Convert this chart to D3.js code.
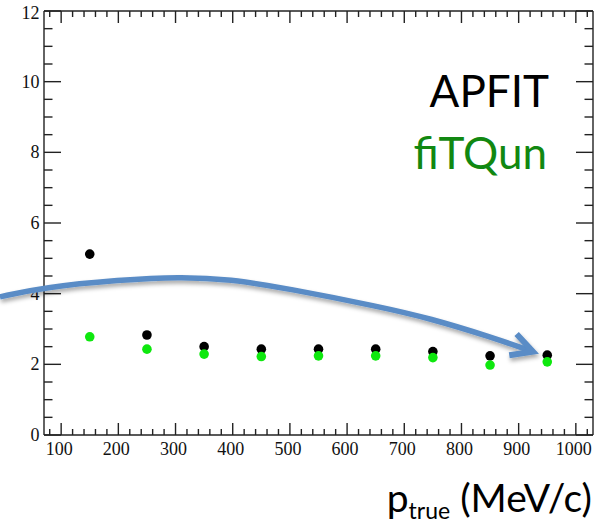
<!DOCTYPE html>
<html>
<head>
<meta charset="utf-8">
<script src="https://cdn.jsdelivr.net/npm/d3@7"></script>
<style>
  html, body { margin: 0; padding: 0; background: #fff; }
  svg { display: block; }
</style>
</head>
<body>
<svg id="chart" width="601" height="524"></svg>
<script>
// ---- data ----
const pTrue = [150, 250, 350, 450, 550, 650, 750, 850, 950];
const apfitValues = [5.12, 2.83, 2.50, 2.43, 2.43, 2.43, 2.36, 2.24, 2.26];
const apfitErrors = [0.12, 0.06, 0.05, 0.05, 0.05, 0.05, 0.05, 0.05, 0.05];
const fitqunValues = [2.78, 2.43, 2.29, 2.22, 2.24, 2.24, 2.19, 1.98, 2.07];
const fitqunErrors = [0.04, 0.04, 0.04, 0.04, 0.04, 0.04, 0.04, 0.04, 0.04];
const xTickLabels = [100, 200, 300, 400, 500, 600, 700, 800, 900, 1000];
const yTickLabels = [0, 2, 4, 6, 8, 10, 12];
const seriesNames = ["APFIT", "fiTQun"];
// annotation arrow path (data coordinates)
const arrowX = [-7, 68, 203, 308, 395, 495, 657, 745, 850, 925];
const arrowY = [3.91, 4.18, 4.39, 4.48, 4.41, 4.15, 3.63, 3.30, 2.78, 2.36];

// ---- layout ----
const svg = d3.select("#chart");
const x = d3.scaleLinear().domain([70, 1030]).range([44, 593]);
const y = d3.scaleLinear().domain([0, 12]).range([435, 11]);
const axisColor = "#222";

// drop-shadow filter for the arrow
const defs = svg.append("defs");
const f = defs.append("filter").attr("id", "shadow")
  .attr("x", "-10%").attr("y", "-50%").attr("width", "130%").attr("height", "250%");
f.append("feDropShadow").attr("dx", 1).attr("dy", 3).attr("stdDeviation", 2)
  .attr("flood-color", "#000").attr("flood-opacity", 0.35);

// ---- axes (ROOT-style frame with inside ticks) ----
const xMajor = xTickLabels;
const xMinor = d3.range(80, 1030, 20).filter(v => v % 100 !== 0);
const yMajor = yTickLabels;
const yMinor = d3.range(0.5, 12, 0.5).filter(v => v % 2 !== 0);

const axisG = svg.append("g").attr("stroke", axisColor).attr("stroke-width", 1.4);
axisG.append("line").attr("x1", x(70)).attr("x2", x(70)).attr("y1", y(12)).attr("y2", y(0));
axisG.append("line").attr("x1", x(70)).attr("x2", x(1030)).attr("y1", y(0)).attr("y2", y(0));
axisG.append("line").attr("x1", x(1030)).attr("x2", x(1030)).attr("y1", y(12)).attr("y2", y(0));
axisG.append("line").attr("x1", x(70)).attr("x2", x(1030)).attr("y1", y(12)).attr("y2", y(12));

function xTicks(vals, len) {
  axisG.selectAll(null).data(vals).enter().append("line")
    .attr("x1", d => x(d)).attr("x2", d => x(d))
    .attr("y1", y(0)).attr("y2", y(0) - len);
  axisG.selectAll(null).data(vals).enter().append("line")
    .attr("x1", d => x(d)).attr("x2", d => x(d))
    .attr("y1", y(12)).attr("y2", y(12) + len);
}
xTicks(xMajor, 12);
xTicks(xMinor, 6);
function yTicks(vals, len) {
  axisG.selectAll(null).data(vals).enter().append("line")
    .attr("x1", x(70)).attr("x2", x(70) + len)
    .attr("y1", d => y(d)).attr("y2", d => y(d));
  axisG.selectAll(null).data(vals).enter().append("line")
    .attr("x1", x(1030)).attr("x2", x(1030) - len)
    .attr("y1", d => y(d)).attr("y2", d => y(d));
}
yTicks(yMajor, 17);
yTicks(yMinor, 8.5);

// tick labels
svg.append("g").selectAll("text").data(xTickLabels).enter().append("text")
  .attr("x", d => x(d) - 2).attr("y", 455)
  .attr("text-anchor", "middle")
  .attr("font-family", "'Liberation Serif', 'DejaVu Serif', serif")
  .attr("font-size", 18).attr("fill", "#111")
  .text(d => d);
svg.append("g").selectAll("text").data(yTickLabels).enter().append("text")
  .attr("x", 39.5).attr("y", d => y(d) + 6 + (d === 12 ? 2 : 0))
  .attr("text-anchor", "end")
  .attr("font-family", "'Liberation Serif', 'DejaVu Serif', serif")
  .attr("font-size", 18).attr("fill", "#111")
  .text(d => d);

// ---- data points ----
function drawSeries(vals, errs, color) {
  const g = svg.append("g");
  g.selectAll("line").data(pTrue).enter().append("line")
    .attr("x1", d => x(d)).attr("x2", d => x(d))
    .attr("y1", (d, i) => y(vals[i] - errs[i]))
    .attr("y2", (d, i) => y(vals[i] + errs[i]))
    .attr("stroke", color).attr("stroke-width", 2);
  g.selectAll("circle").data(pTrue).enter().append("circle")
    .attr("cx", d => x(d)).attr("cy", (d, i) => y(vals[i]))
    .attr("r", 4.8).attr("fill", color);
}
drawSeries(apfitValues, apfitErrors, "#000");
drawSeries(fitqunValues, fitqunErrors, "#0ee80e");

// ---- annotation arrow ----
const arrowPts = arrowX.map((v, i) => [x(v), y(arrowY[i])]);
const arrowG = svg.append("g").attr("filter", "url(#shadow)");
arrowG.append("path")
  .attr("d", d3.line().curve(d3.curveBasis)(arrowPts))
  .attr("fill", "none").attr("stroke", "#5a8cc6").attr("stroke-width", 5.5)
  .attr("stroke-linecap", "butt");
{
  const n = arrowPts.length;
  const tip = arrowPts[n - 1], prev = arrowPts[n - 2];
  const ang = Math.atan2(tip[1] - prev[1], tip[0] - prev[0]);
  const L = 24, spread = 28 * Math.PI / 180;
  const w1 = [tip[0] - L * Math.cos(ang - spread), tip[1] - L * Math.sin(ang - spread)];
  const w2 = [tip[0] - L * Math.cos(ang + spread), tip[1] - L * Math.sin(ang + spread)];
  arrowG.append("path")
    .attr("d", d3.line()([w1, tip, w2]))
    .attr("fill", "none").attr("stroke", "#5a8cc6").attr("stroke-width", 6)
    .attr("stroke-linejoin", "miter");
}

// ---- legend text ----
svg.append("text").attr("x", 549).attr("y", 107).attr("text-anchor", "end")
  .attr("font-family", "Lato, 'Open Sans', sans-serif").attr("font-size", 44)
  .attr("fill", "#000").text(seriesNames[0]);
svg.append("text").attr("x", 547).attr("y", 169).attr("text-anchor", "end")
  .attr("font-family", "Lato, 'Open Sans', sans-serif").attr("font-size", 44)
  .attr("fill", "#118811").text(seriesNames[1]);

// ---- x-axis title ----
const xt = svg.append("text").attr("x", 592).attr("y", 512).attr("text-anchor", "end")
  .attr("font-family", "Lato, 'Open Sans', sans-serif").attr("font-size", 39)
  .attr("fill", "#000");
xt.append("tspan").text("p");
xt.append("tspan").attr("font-size", 23).attr("dy", 7).text("true");
xt.append("tspan").attr("dy", -7).text(" (MeV/c)");
</script>
</body>
</html>
